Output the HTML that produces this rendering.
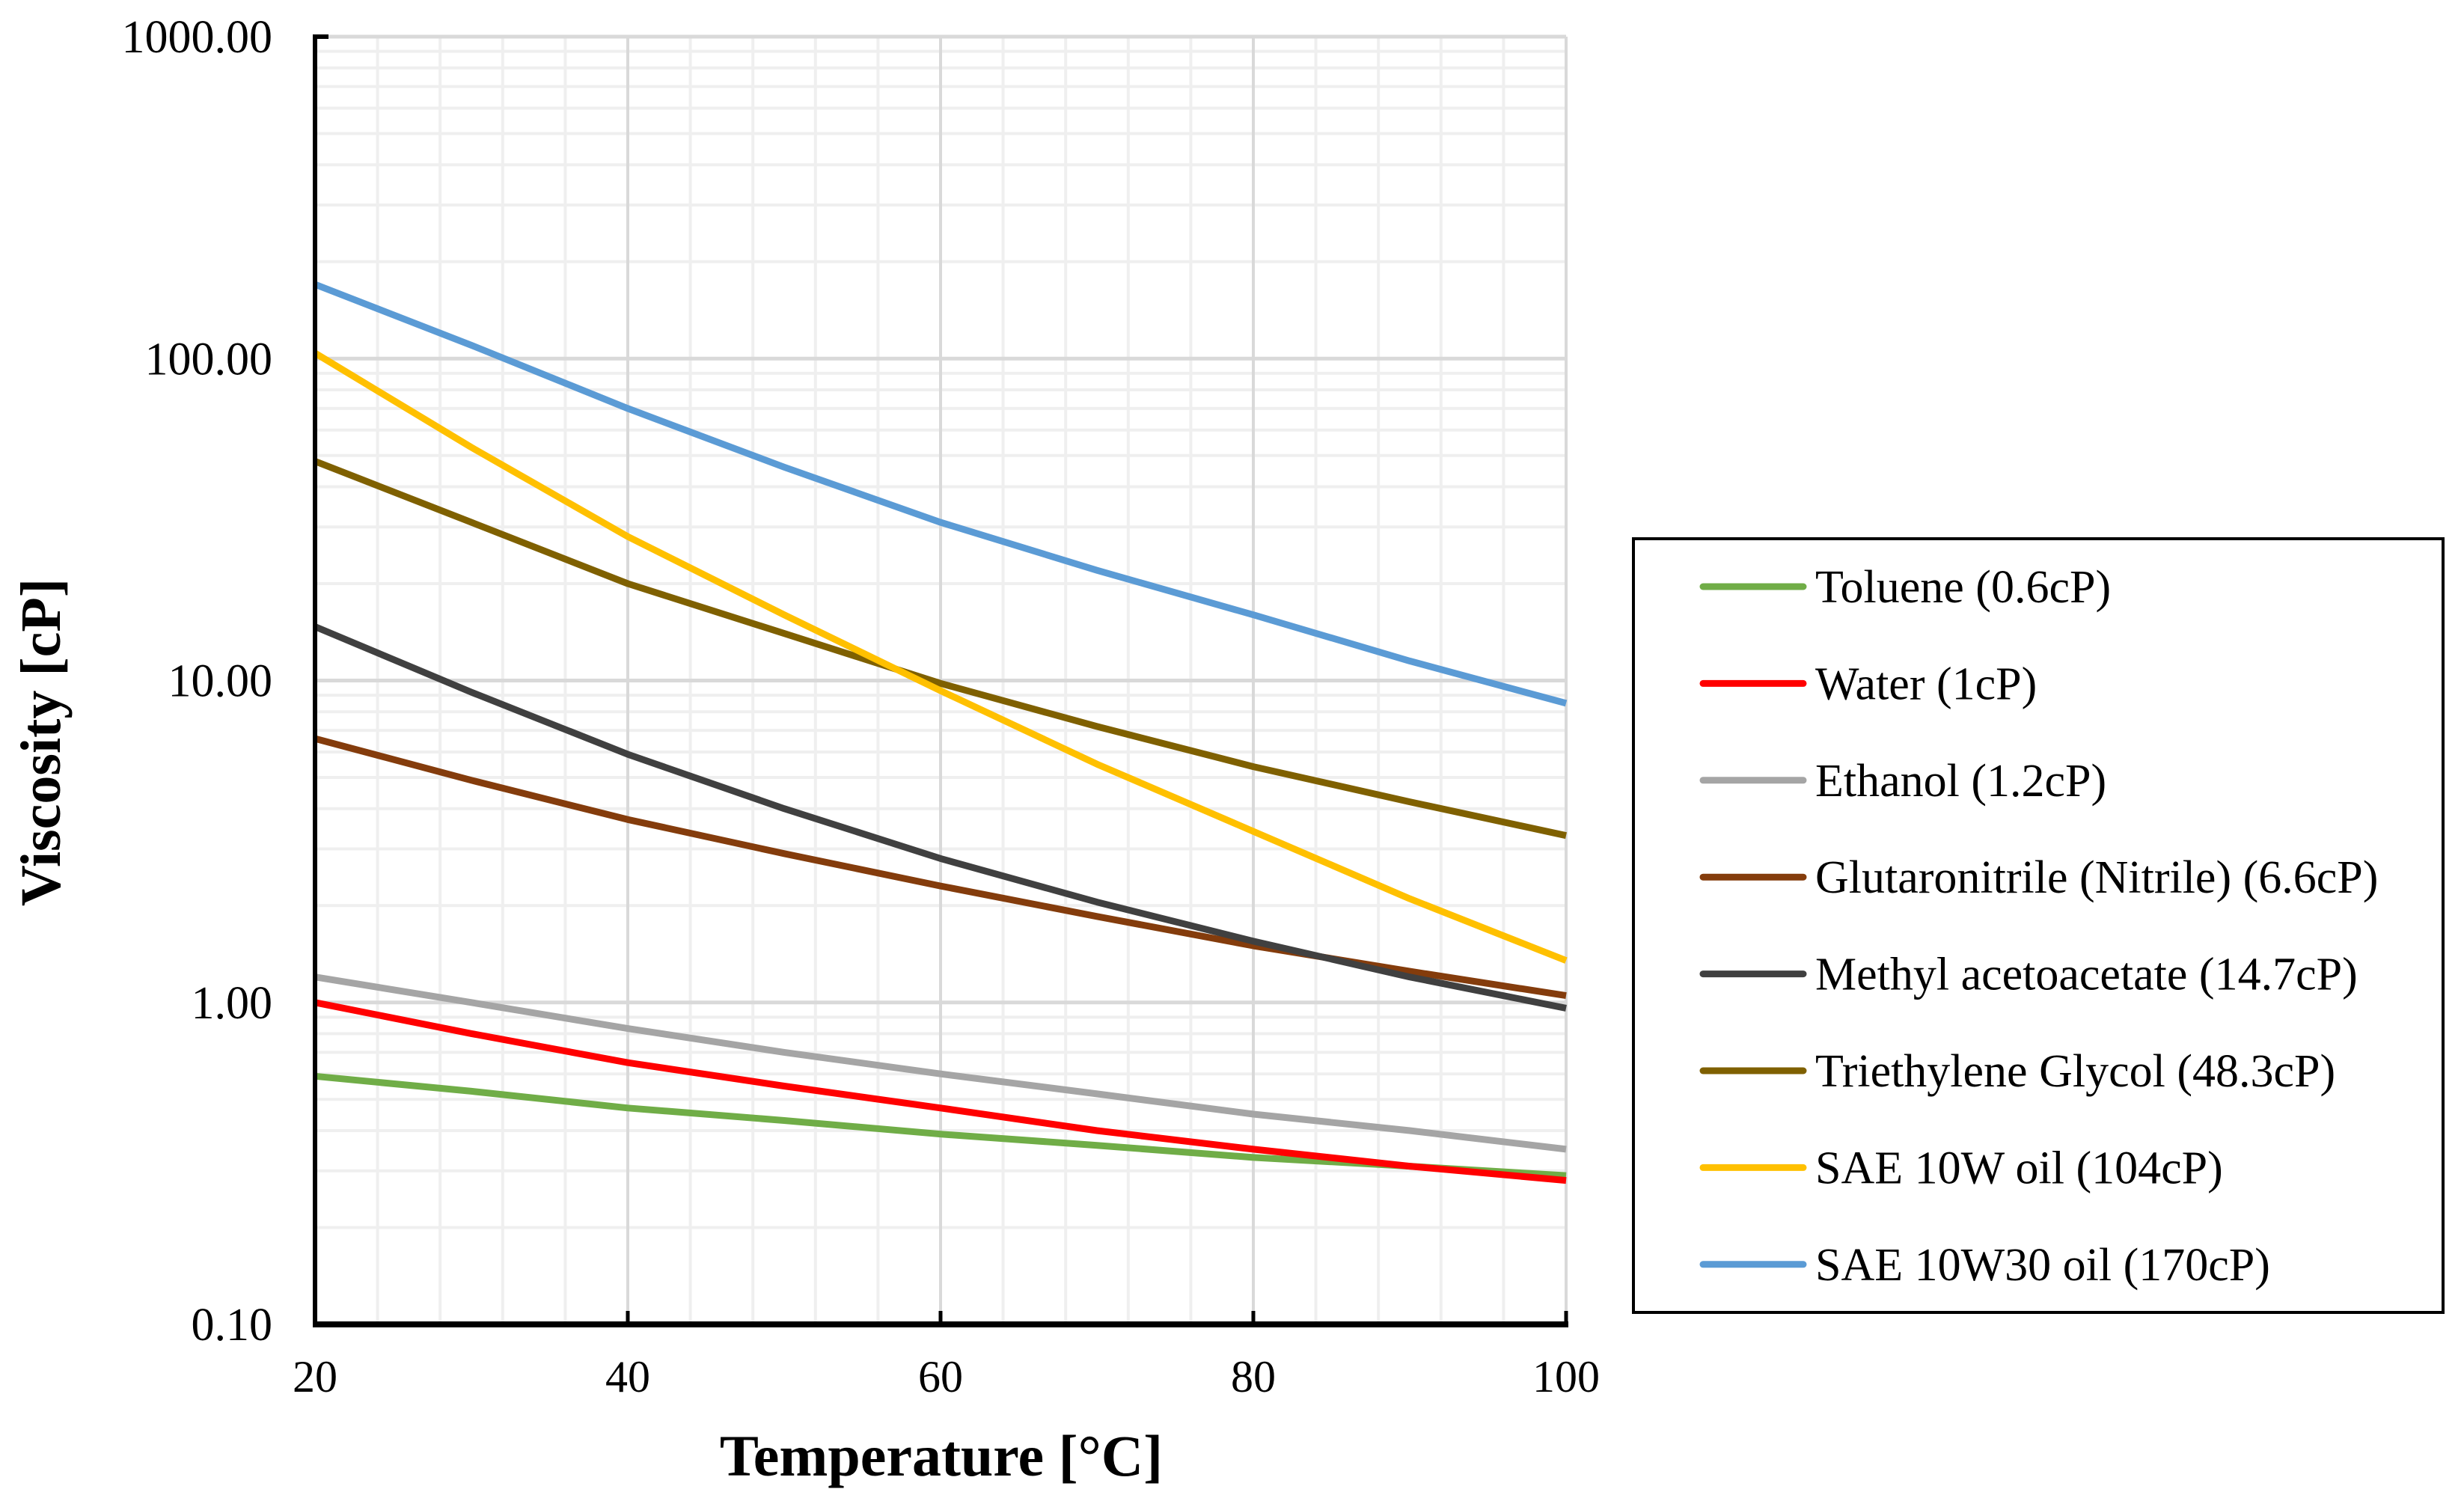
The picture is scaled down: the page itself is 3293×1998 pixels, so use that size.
<!DOCTYPE html>
<html><head><meta charset="utf-8">
<style>
html,body{margin:0;padding:0;background:#fff;}
svg{display:block;font-family:"Liberation Serif","Times New Roman",serif;}
</style></head>
<body>
<svg id="chart" width="3293" height="1998" viewBox="0 0 3293 1998" xmlns="http://www.w3.org/2000/svg">
<g id="grid"></g>
<g id="series"></g>
<g id="axes"></g>
<text x="1258" y="1972" text-anchor="middle" font-size="78" font-weight="bold">Temperature [°C]</text>
<text transform="translate(80,992) rotate(-90)" text-anchor="middle" font-size="76" font-weight="bold">Viscosity [cP]</text>
<rect x="2183" y="720" width="1082" height="1034" fill="#fff" stroke="#000" stroke-width="4"/>
<g id="legend"></g>
</svg>
<script>
const temps = [20,30,40,50,60,70,80,90,100];
const seriesNames = ["Toluene (0.6cP)","Water (1cP)","Ethanol (1.2cP)","Glutaronitrile (Nitrile) (6.6cP)","Methyl acetoacetate (14.7cP)","Triethylene Glycol (48.3cP)","SAE 10W oil (104cP)","SAE 10W30 oil (170cP)"];
const seriesColors = ["#70ad47","#ff0000","#a5a5a5","#843c0c","#404040","#7f6000","#ffc000","#5b9bd5"];
const toluene = [0.59,0.53,0.47,0.43,0.39,0.36,0.33,0.31,0.29];
const water = [1.0,0.80,0.65,0.55,0.47,0.40,0.35,0.31,0.28];
const ethanol = [1.2,1.0,0.83,0.70,0.60,0.52,0.45,0.40,0.35];
const glutaronitrile = [6.6,4.9,3.7,2.9,2.3,1.85,1.5,1.25,1.05];
const methylAcetoacetate = [14.7,9.2,5.9,4.0,2.8,2.05,1.55,1.2,0.96];
const triethyleneGlycol = [48,31,20,14,9.8,7.2,5.4,4.2,3.3];
const sae10w = [104,53,28,16,9.3,5.5,3.4,2.1,1.35];
const sae10w30 = [170,110,70,46,31,22,16,11.5,8.5];
const allSeries = [toluene,water,ethanol,glutaronitrile,methylAcetoacetate,triethyleneGlycol,sae10w,sae10w30];
const xTicks = [20,40,60,80,100];
const yTicks = [0.1,1,10,100,1000];
const yTickLabels = ["0.10","1.00","10.00","100.00","1000.00"];

const NS="http://www.w3.org/2000/svg";
const L=421,R=2093,T=49,B=1770;
const xMin=20,xMax=100,yMin=-1,yMax=3;
function sx(v){return L+(v-xMin)/(xMax-xMin)*(R-L);}
function sy(v){return B-(Math.log10(v)-yMin)/(yMax-yMin)*(B-T);}
function mk(tag,attrs,parent){const e=document.createElementNS(NS,tag);for(const k in attrs)e.setAttribute(k,attrs[k]);parent.appendChild(e);return e;}
const grid=document.getElementById('grid'),axes=document.getElementById('axes'),ser=document.getElementById('series'),leg=document.getElementById('legend');
for(let d=-1;d<3;d++){for(let m=2;m<=9;m++){const v=m*Math.pow(10,d);const l=mk('line',{x1:L,x2:R,y1:sy(v),y2:sy(v),stroke:'#efefef','stroke-width':4},grid);

}}
for(let x=24;x<100;x+=4){if(x%20===0)continue;const l=mk('line',{x1:sx(x),x2:sx(x),y1:T,y2:B,stroke:'#efefef','stroke-width':4},grid);

}
yTicks.forEach((v,i)=>{const l=mk('line',{x1:L,x2:R,y1:sy(v),y2:sy(v),stroke:'#d9d9d9','stroke-width':5},grid);


const t=mk('text',{x:364,y:sy(v)+21,'text-anchor':'end','font-size':62},axes);t.textContent=yTickLabels[i];

});
xTicks.forEach(v=>{const l=mk('line',{x1:sx(v),x2:sx(v),y1:T,y2:B,stroke:'#d9d9d9','stroke-width':4},grid);


const tk=mk('line',{x1:sx(v),x2:sx(v),y1:B-18,y2:B,stroke:'#000','stroke-width':5},axes);


const t=mk('text',{x:sx(v),y:1860,'text-anchor':'middle','font-size':60},axes);t.textContent=v;

});
const ya=mk('line',{x1:L,x2:L,y1:T-3,y2:B+3,stroke:'#000','stroke-width':6},axes);


const yt=mk('line',{x1:L,x2:L+18,y1:T,y2:T,stroke:'#000','stroke-width':6},axes);


const xa=mk('line',{x1:L-3,x2:R+3,y1:B,y2:B,stroke:'#000','stroke-width':8},axes);


allSeries.forEach((vals,i)=>{const pts=vals.map((v,j)=>sx(temps[j]).toFixed(1)+','+sy(v).toFixed(1)).join(' ');
const p=mk('polyline',{points:pts,fill:'none',stroke:seriesColors[i],'stroke-width':9,'stroke-linejoin':'round'},ser);


const ly=784+i*129.4;
const ll=mk('line',{x1:2276,x2:2410,y1:ly,y2:ly,stroke:seriesColors[i],'stroke-width':9,'stroke-linecap':'round'},leg);


const lt=mk('text',{x:2426,y:ly+21,'font-size':62},leg);lt.textContent=seriesNames[i];

});
</script>
</body></html>
